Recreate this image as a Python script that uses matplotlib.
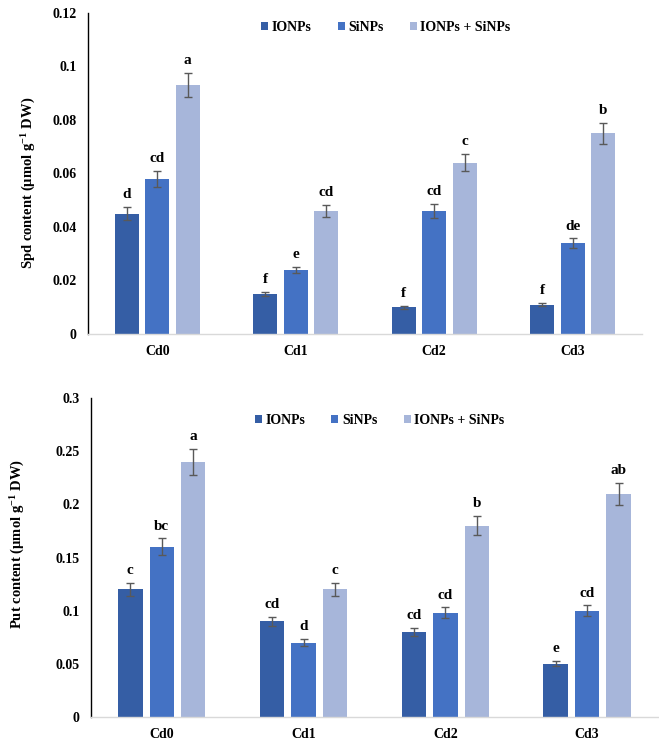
import matplotlib
matplotlib.use("Agg")
import matplotlib.pyplot as plt
import numpy as np

categories = ["Cd0", "Cd1", "Cd2", "Cd3"]
series = ["IONPs", "SiNPs", "IONPs + SiNPs"]
colors = ["#355EA5", "#4472C4", "#A7B6DA"]

spd_vals = [[0.045, 0.015, 0.010, 0.011],
            [0.058, 0.024, 0.046, 0.034],
            [0.093, 0.046, 0.064, 0.075]]
spd_err = [[0.0025, 0.0008, 0.0005, 0.0006],
           [0.003, 0.0012, 0.0025, 0.0017],
           [0.0045, 0.0023, 0.0032, 0.0038]]
spd_letters = [["d", "f", "f", "f"],
               ["cd", "e", "cd", "de"],
               ["a", "cd", "c", "b"]]
spd_ticks = [0, 0.02, 0.04, 0.06, 0.08, 0.1, 0.12]
spd_ticklabels = ["0", "0.02", "0.04", "0.06", "0.08", "0.1", "0.12"]

put_vals = [[0.12, 0.09, 0.08, 0.05],
            [0.16, 0.07, 0.098, 0.10],
            [0.24, 0.12, 0.18, 0.21]]
put_err = [[0.006, 0.0045, 0.004, 0.0025],
           [0.008, 0.0035, 0.005, 0.005],
           [0.012, 0.006, 0.009, 0.0105]]
put_letters = [["c", "cd", "cd", "e"],
               ["bc", "d", "cd", "cd"],
               ["a", "c", "b", "ab"]]
put_ticks = [0, 0.05, 0.1, 0.15, 0.2, 0.25, 0.3]
put_ticklabels = ["0", "0.05", "0.1", "0.15", "0.2", "0.25", "0.3"]

plt.rcParams['font.family'] = ['Liberation Serif', 'DejaVu Serif']
plt.rcParams['font.weight'] = 'bold'
plt.rcParams['mathtext.fontset'] = 'custom'
plt.rcParams['mathtext.rm'] = 'Liberation Serif:bold'
plt.rcParams['mathtext.bf'] = 'Liberation Serif:bold'
plt.rcParams['mathtext.it'] = 'Liberation Serif:bold'
plt.rcParams['mathtext.default'] = 'bf'

W, H = 659, 742
fig = plt.figure(figsize=(6.59, 7.42), dpi=100)
ax1 = fig.add_axes([0.1335, 0.5499, 0.974 - 0.1335, 0.9825 - 0.5499])
ax2 = fig.add_axes([0.138, 0.0337, 0.9985 - 0.138, 0.4636 - 0.0337])


def draw(ax, vals, errs, letters, ticks, ticklabels, ylabel, ymax, step, width,
         legx, legy, labx, laby):
    x = np.arange(len(categories))
    for i in range(len(series)):
        pos = x + (i - 1) * step
        ax.bar(pos, vals[i], width=width, color=colors[i], label=series[i], zorder=2)
        ax.errorbar(pos, vals[i], yerr=errs[i], fmt='none', ecolor='#595959',
                    elinewidth=1.0, capsize=3, capthick=1.0, zorder=3)
        for p, v, e, l in zip(pos, vals[i], errs[i], letters[i]):
            ax.text(p, v + e + ymax * 0.018, l, ha='center', va='bottom',
                    fontsize=11, fontweight='bold')
    ax.set_xlim(-0.5, len(categories) - 0.5)
    ax.set_ylim(0, ymax)
    ax.set_xticks(x)
    ax.set_xticklabels(categories, fontsize=10, fontweight='bold')
    ax.set_yticks(ticks)
    ax.set_yticklabels(ticklabels, fontsize=10, fontweight='bold')
    ax.tick_params(axis='both', length=0)
    ax.tick_params(axis='x', pad=8)
    ax.tick_params(axis='y', pad=8)
    for s in ['top', 'right']:
        ax.spines[s].set_visible(False)
    ax.spines['left'].set_color('black')
    ax.spines['left'].set_linewidth(1.0)
    ax.spines['bottom'].set_color('#D9D9D9')
    ax.spines['bottom'].set_linewidth(1.0)
    fig.text(labx / W, 1 - laby / H, ylabel, rotation=90, ha='center', va='center',
             fontsize=10.5, fontweight='bold')
    ax.legend(loc='center', bbox_to_anchor=(legx, legy), ncol=3,
              frameon=False, handlelength=0.5, handleheight=0.5,
              handletextpad=0.25, columnspacing=1.9,
              prop={'weight': 'bold', 'size': 10})


draw(ax1, spd_vals, spd_err, spd_letters, spd_ticks, spd_ticklabels,
     r"Spd content (µmol g$^{-1}$ DW)", 0.12, 0.22, 0.173, 0.538, 0.955, 29, 183)
draw(ax2, put_vals, put_err, put_letters, put_ticks, put_ticklabels,
     r"Put content (µmol g$^{-1}$ DW)", 0.3, 0.222, 0.172, 0.509, 0.93, 18, 544)

fig.savefig("out.png", dpi=100)
